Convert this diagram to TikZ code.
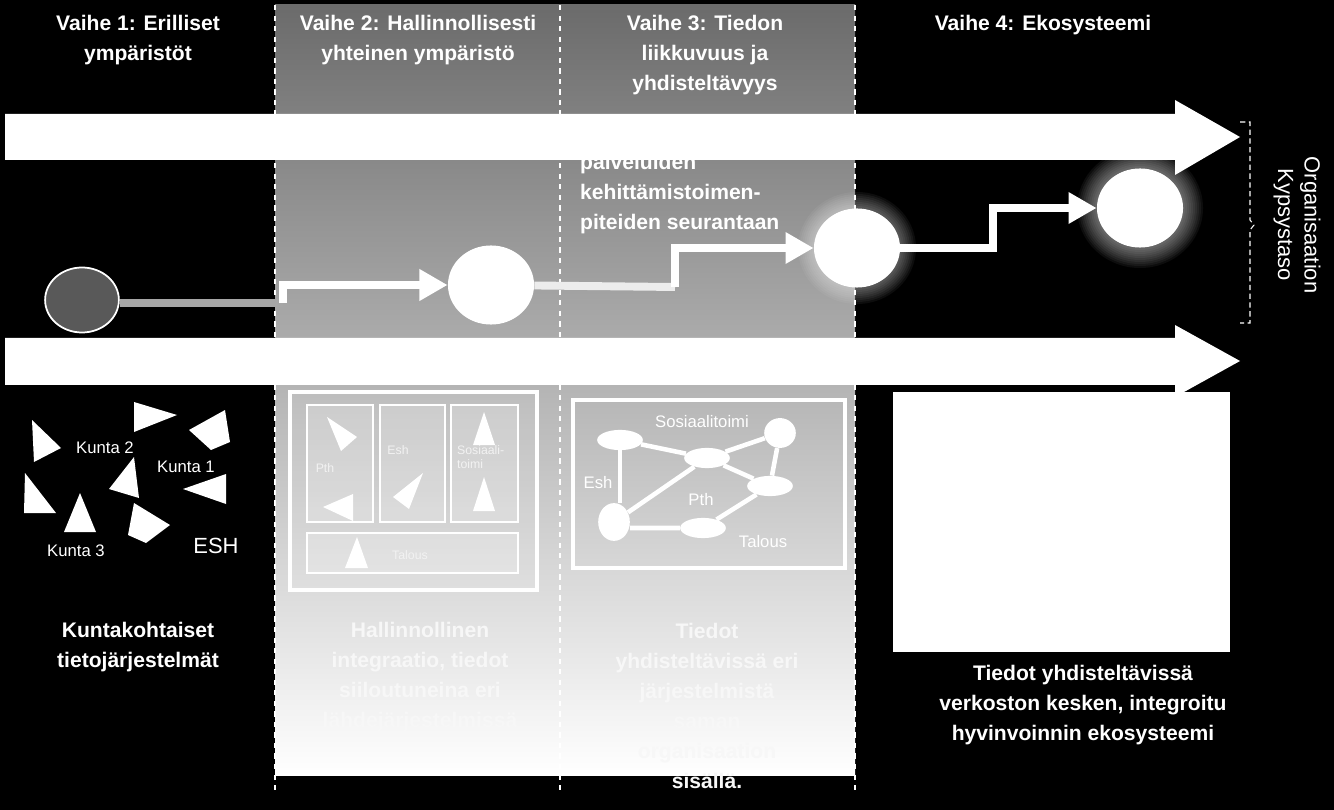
\documentclass[tikz,border=0pt]{standalone}
\usepackage{fontspec}
\setmainfont{Liberation Sans}
\usepackage{tikz}
\usetikzlibrary {arrows.meta,
                 positioning,
                 shapes.geometric}
\tikzset{
        head/.style={text=white, font=\bfseries\fontsize{12}{17}\selectfont, align=center},
        foot/.style={head, text=white},
        pale/.style={head, text=white!94!gray},
        lbl/.style={text=white, font=\fontsize{9.5}{10}\selectfont, inner sep=1pt},
        tiny/.style={text=white!90!gray, font=\fontsize{7}{8}\selectfont, inner sep=1pt, align=left},
        stage/.style={ellipse, fill=white, minimum width=49pt, minimum height=45pt, inner sep=0pt},
        net/.style={ellipse, fill=white, inner sep=0pt, minimum width=26pt, minimum height=11.5pt},
        link/.style={white, line width=2.6pt},
        frame/.style={draw=white, line width=2pt},
        sep/.style={white, dashed, line width=0.8pt},
        glow/.style={white, opacity=0.05},
        myarrow/.style={white, line width=4.5pt, -{Triangle[length=16pt,width=17pt]}},
 }
\begin{document}
\begin{tikzpicture}[x=0.02cm, y=-0.02cm]
    \fill[black] (0,0) rectangle (1334,810);
    \useasboundingbox (0,0) rectangle (1334,810);
    % shaded middle columns
    \shade[top color=black!58, bottom color=white] (275,5) rectangle (855,775);

    % headings
    \node[head] (h1) at (138,40) {Vaihe 1: Erilliset\\ympäristöt};
    \node[head] (h2) at (418,40) {Vaihe 2: Hallinnollisesti\\yhteinen ympäristö};
    \node[head] (h3) at (705,55) {Vaihe 3: Tiedon\\liikkuvuus ja\\yhdisteltävyys};
    \node[head] (h4) at (1043,25) {Vaihe 4: Ekosysteemi};
    \node[head, align=left, anchor=north west] (t3) at (574,148)
        {palveluiden\\kehittämistoimen-\\piteiden seurantaan};

    % big arrows
    \fill[white] (5,114) -- (1175,114) -- (1175,100) -- (1240,137) -- (1175,175)
        -- (1175,160) -- (5,160) -- cycle;
    \fill[white] (5,338) -- (1175,338) -- (1175,325) -- (1240,361) -- (1175,397)
        -- (1175,385) -- (5,385) -- cycle;

    % column separators
    \foreach \x in {275,560,855}
        \draw[sep] (\x,5) -- (\x,795);
    \draw[white, densely dashed, line width=0.6pt] (1240,122) -- (1250,122) -- (1250,220)
        -- (1254,225) -- (1250,230) -- (1250,323) -- (1240,323);
    \node[text=white, font=\fontsize{12.5}{15}\selectfont, rotate=-90, align=center]
        (k) at (1297,225) {Organisaation\\Kypsystaso};

    % stages
    \node[ellipse, draw=white, line width=1pt, fill=black!65, minimum width=42pt,
        minimum height=37pt] (a) at (82,300) {};
    \node[stage] (b) at (491,285) {};
    \foreach \r in {16,14,...,2}
        \fill[glow] (857,248) ellipse ({43+\r} and {40+\r});
    \node[stage] (c) at (857,248) {};
    \foreach \r in {20,18,...,2}
        \fill[glow] (1140,208) ellipse ({43+\r} and {40+\r});
    \node[stage] (d) at (1140,208) {};
    \coordinate (s1) at (283,303);
    \coordinate (s2) at (675,287);
    \coordinate (s3) at (993,250);
    \draw[black!35, line width=4.5pt] (a.east |- s1) -- (s1);
    \draw[myarrow] (s1) |- (b);
    \draw[white!85!gray, line width=4.5pt] (b) -- (s2);
    \draw[myarrow] (s2) |- (c);
    \draw[myarrow] ([xshift=-2]c.east) -- (s3 |- c.east) |- (d);

    % column 1
    \foreach \p in {{(32,420) -- (61,448) -- (34,462)},
                    {(134,402) -- (177,415) -- (134,432)},
                    {(189,430) -- (225,410) -- (230,442) -- (211,450)},
                    {(25,473) -- (56,513) -- (24,513)},
                    {(134,457) -- (139,498) -- (109,489)},
                    {(226,474) -- (226,504) -- (183,489)},
                    {(80,493) -- (96,532) -- (64,532)},
                    {(134,503) -- (170,525) -- (146,543) -- (128,535)}}
        \fill[white] \p -- cycle;
    \node[lbl] (k2) at (105,448) {Kunta 2};
    \node[lbl] (k1) at (186,467) {Kunta 1};
    \node[lbl] (k3) at (76,551) {Kunta 3};
    \node[lbl, font=\fontsize{12.5}{14}\selectfont] (esh) at (216,546) {ESH};
    \node[foot] (f1) at (138,647) {Kuntakohtaiset\\tietojärjestelmät};

    % column 2
    \draw[frame, fill=white, fill opacity=0.12] (290,392) rectangle (537,590);
    \foreach \x/\y/\X/\Y in {307/405/373/522, 380/405/445/522, 451/405/518/522, 307/533/518/573}
        \draw[frame, line width=1.6pt, fill=white, fill opacity=0.2] (\x,\y) rectangle (\X,\Y);
    \foreach \p in {{(327,417) -- (357,437) -- (341,451)},
                    {(323,507) -- (353,494) -- (353,521)},
                    {(423,473) -- (409,509) -- (393,497)},
                    {(484,412) -- (495,445) -- (473,445)},
                    {(484,477) -- (495,511) -- (473,511)},
                    {(357,537) -- (368,568) -- (345,568)}}
        \fill[white] \p -- cycle;
    \node[tiny] (p2) at (325,468) {Pth};
    \node[tiny] (e2) at (398,450) {Esh};
    \node[tiny, anchor=north west] (s2t) at (455,443) {Sosiaali-\\toimi};
    \node[tiny] (t2) at (410,555) {Talous};
    \node[pale] (f2) at (420,677) {Hallinnollinen\\integraatio, tiedot\\siiloutuneina eri\\lähdejärjestelmissä};

    % column 3
    \draw[frame] (573,400) rectangle (845,568);
    \node[net] (n1) at (620,440) {};
    \node[net] (n2) at (707,458) {};
    \node[net, minimum width=18pt, minimum height=17pt] (n3) at (780,433) {};
    \node[net] (n4) at (770,486) {};
    \node[net, minimum width=18pt, minimum height=21.5pt] (n5) at (614,522) {};
    \node[net] (n6) at (703,528) {};
    \draw[link] (n1) -- (n2) -- (n3) -- (n4) -- (n2) -- (n5);
    \draw[link] (n1.south) -- (n1.south |- n5.north);
    \draw[link] (n5.east |- n6) -- (n6) -- (n4);
    \node[lbl] (so) at (702,422) {Sosiaalitoimi};
    \node[lbl] (es) at (598,483) {Esh};
    \node[lbl] (pt) at (701,500) {Pth};
    \node[lbl] (ta) at (763,542) {Talous};
    \node[pale] (f3) at (707,706) {Tiedot\\yhdisteltävissä eri\\järjestelmistä\\saman\\organisaation\\sisällä.};

    % column 4
    \fill[white] (893,392) rectangle (1230,652);
    \node[foot] (f4) at (1083,705) {Tiedot yhdisteltävissä\\verkoston kesken, integroitu\\hyvinvoinnin ekosysteemi};
\end{tikzpicture}
\end{document}
